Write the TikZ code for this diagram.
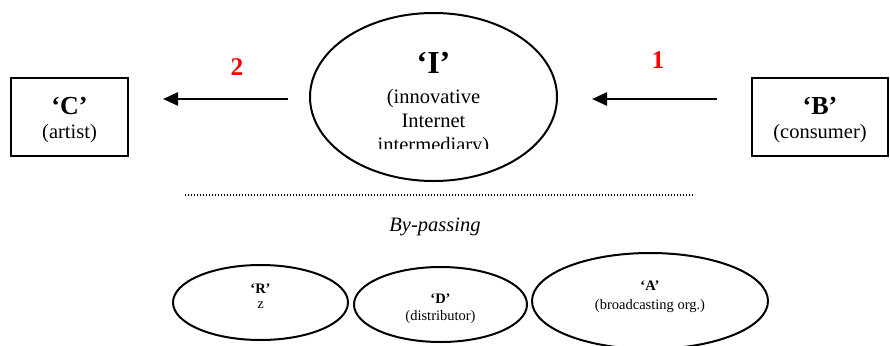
\documentclass[tikz,border=0pt]{standalone}
\usepackage{fontspec}
\setmainfont{Liberation Serif}
\usetikzlibrary{shapes.geometric,arrows.meta}
\definecolor{numred}{RGB}{255,0,0}
\begin{document}
\begin{tikzpicture}[x=1pt,y=-1pt,
  box/.style={draw,line width=2pt,rectangle,inner sep=0pt},
  oval/.style={draw,line width=2pt,ellipse,inner sep=0pt},
  arr/.style={line width=2.4pt,-{Triangle[length=15pt,width=13pt]}},
  txt/.style={anchor=base,inner sep=0pt},
  bigt/.style={txt,font=\fontsize{26}{28}\selectfont\bfseries},
  midt/.style={txt,font=\fontsize{20.5}{23}\selectfont},
  num/.style={txt,text=numred,font=\fontsize{25.5}{27}\selectfont\bfseries},
  smb/.style={txt,font=\fontsize{14.5}{16}\selectfont\bfseries},
  sml/.style={txt,font=\fontsize{14.5}{16}\selectfont}]
\useasboundingbox (0,0) rectangle (890,345);
% top row
\node[box,minimum width=117pt,minimum height=78pt] (C) at (69.5,117) {};
\node[bigt] (Ct) at (69.5,114) {‘C’};
\node[midt] (Cs) at (69.5,138) {(artist)};
\node[box,minimum width=136pt,minimum height=78pt] (B) at (820,117) {};
\node[bigt] (Bt) at (820,114) {‘B’};
\node[midt] (Bs) at (820,138) {(consumer)};
\node[oval,minimum width=247pt,minimum height=168pt] (I) at (433.5,97) {};
\node[txt,font=\fontsize{32}{34}\selectfont\bfseries] (It) at (433.5,74) {‘I’};
\node[midt] (I1) at (433.5,103) {(innovative};
\node[midt] (I2) at (433.5,127) {Internet};
\begin{scope}
\clip (300,0) rectangle (570,148);
\node[midt] (I3) at (433.5,151) {intermediary)};
\end{scope}
% arrows
\coordinate (a1s) at (717,99);
\coordinate (a1e) at (592,99);
\coordinate (a2s) at (288,99);
\coordinate (a2e) at (163,99);
\draw[arr] (a1s) -- (a1e);
\draw[arr] (a2s) -- (a2e);
\node[num] (n1) at (658,68) {1};
\node[num] (n2) at (237,75) {2};
% dotted line
\coordinate (d1) at (185,195);
\coordinate (d2) at (695,195);
\draw[line width=1.3pt,dash pattern=on 1.3pt off 1.7pt] (d1) -- (d2);
\node[txt,font=\fontsize{20.5}{23}\selectfont\itshape] (bp) at (435,231) {By-passing};
% bottom ellipses
\node[oval,minimum width=175pt,minimum height=75pt] (R) at (260.5,302.5) {};
\node[smb] (Rt) at (260.5,293) {‘R’};
\node[sml] (Rs) at (260.5,308) {z};
\node[oval,minimum width=173pt,minimum height=75pt] (D) at (440.5,304.5) {};
\node[smb] (Dt) at (440.5,303) {‘D’};
\node[sml] (Ds) at (440.5,320) {(distributor)};
\node[oval,minimum width=236pt,minimum height=96pt] (A) at (650,301) {};
\node[smb] (At) at (650,290) {‘A’};
\node[sml] (As) at (650,309) {(broadcasting org.)};
\end{tikzpicture}
\end{document}
